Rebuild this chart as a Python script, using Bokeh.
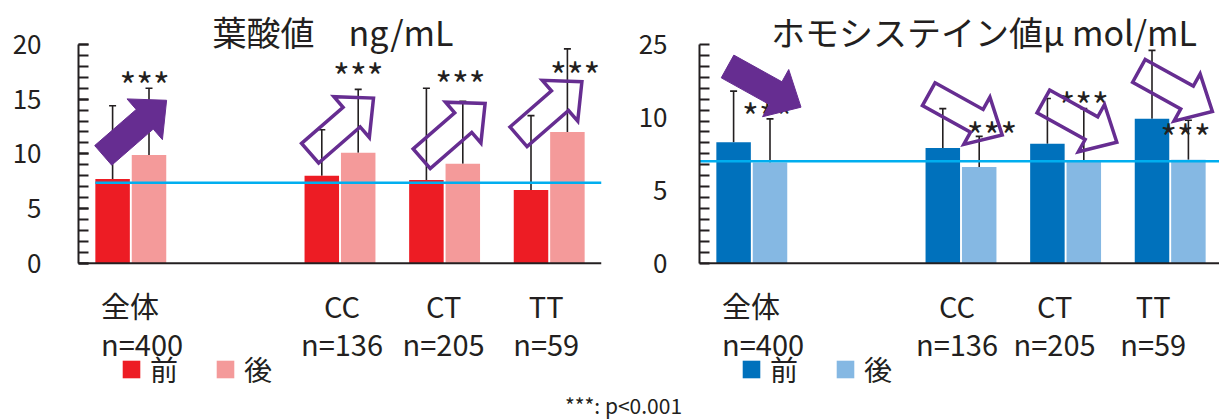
import math
from bokeh.plotting import figure
from bokeh.models import (ColumnDataSource, Range1d, FixedTicker, Span, Whisker,
                          TeeHead, Legend, LegendItem)
from bokeh.layouts import row, column
from bokeh.embed import file_html
from bokeh.resources import INLINE
from bokeh.core.properties import value

# ---------------- data ----------------
slots = ["全体", "", "CC", "CT", "TT"]          # x slots (one empty gap)
groups = ["全体", "CC", "CT", "TT"]
n_counts = [400, 136, 205, 59]
series = ["前", "後"]

folate_title = "葉酸値　ng/mL"
folate_pre = [7.7, 8.0, 7.6, 6.7]
folate_pre_sd = [6.7, 4.2, 8.4, 6.8]
folate_post = [9.9, 10.1, 9.1, 12.0]
folate_post_sd = [6.1, 5.8, 5.7, 7.6]
folate_ref = 7.35
folate_ticks = [0, 5, 10, 15, 20]
folate_tick_labels = ["0", "5", "10", "15", "20"]
folate_sig_y = [17.1, 17.9, 17.2, 18.0]
folate_arrow_tip_y = [14.9, 15.1, 14.6, 16.6]

hcy_title = "ホモシステイン値μ mol/mL"
hcy_pre = [8.3, 7.9, 8.2, 9.9]
hcy_pre_sd = [3.5, 2.7, 3.1, 4.7]
hcy_post = [6.9, 6.6, 7.0, 7.1]
hcy_post_sd = [3.0, 2.1, 3.6, 2.7]
hcy_ref = 7.0
hcy_ticks = [0, 5, 10, 15]
hcy_tick_labels = ["0", "5", "10", "25"]
hcy_sig_y = [10.7, 9.4, 11.5, 9.3]
hcy_arrow_tip_y = [10.7, 8.8, 8.3, 10.4]

arrow_style = ["filled", "outline", "outline", "outline"]
sig_text = "***"
note_text = "***: p<0.001"

# ---------------- layout / style ----------------
FONT = "Noto Sans CJK JP"
TXT = "#231f20"
PURPLE = "#662d91"
CYAN = "#00aeef"
H_MAIN = 389
H_NOTE = 31
BASE_Y = 262.7
TOP_Y = 44.0
SLOT = 104.6
BAR_OFF = 18.2 / SLOT
BAR_W = 34.5 / SLOT

ARROW_L, ARROW_W, ARROW_HW, ARROW_HL = 84.0, 26.0, 54.0, 29.0

gx = [slots.index(g) for g in groups]


def arrow_poly(angle_deg):
    a = math.radians(angle_deg)
    ux, uy = math.cos(a), math.sin(a)
    nx, ny = -uy, ux
    bx, by = -ARROW_HL * ux, -ARROW_HL * uy
    cx, cy = -ARROW_L * ux, -ARROW_L * uy
    return [
        (cx + ARROW_W / 2 * nx, cy + ARROW_W / 2 * ny),
        (bx + ARROW_W / 2 * nx, by + ARROW_W / 2 * ny),
        (bx + ARROW_HW / 2 * nx, by + ARROW_HW / 2 * ny),
        (0.0, 0.0),
        (bx - ARROW_HW / 2 * nx, by - ARROW_HW / 2 * ny),
        (bx - ARROW_W / 2 * nx, by - ARROW_W / 2 * ny),
        (cx - ARROW_W / 2 * nx, cy - ARROW_W / 2 * ny),
    ]


def make_panel(cfg, pre, pre_sd, post, post_sd, ref, ticks, tick_labels,
               minor, title, sig_y, tip_y):
    ppu = (BASE_Y - TOP_Y) / ticks[-1]
    fl, fr = cfg["frame_left"], cfg["frame_right"]
    fx0 = cfg["fig_x"]
    width = cfg["width"]
    x0 = -0.5
    x1 = x0 + (fr - fl) / SLOT
    y0 = (BASE_Y - H_MAIN) / ppu
    y1 = BASE_Y / ppu

    def px2x(px):
        return x0 + (px - fl) / SLOT

    def py2y(py):
        return (BASE_Y - py) / ppu

    p = figure(width=width, height=H_MAIN, x_range=Range1d(x0, x1),
               y_range=Range1d(y0, y1), x_axis_location=None,
               y_axis_location="left", toolbar_location=None,
               output_backend="svg", title=None,
               min_border_left=fl - fx0, min_border_right=fx0 + width - fr,
               min_border_top=0, min_border_bottom=0)
    p.outline_line_color = None
    p.grid.visible = False
    p.background_fill_color = "white"
    p.border_fill_color = "white"

    src = ColumnDataSource(dict(
        x_pre=[g - BAR_OFF for g in gx], x_post=[g + BAR_OFF for g in gx],
        pre=pre, post=post,
        pre_hi=[m + s for m, s in zip(pre, pre_sd)],
        post_hi=[m + s for m, s in zip(post, post_sd)],
    ))
    r_pre = p.vbar(x="x_pre", top="pre", bottom=0, width=BAR_W, source=src,
                   fill_color=cfg["c_pre"], line_color=None)
    r_post = p.vbar(x="x_post", top="post", bottom=0, width=BAR_W, source=src,
                    fill_color=cfg["c_post"], line_color=None)

    for base, lo, hi in (("x_pre", "pre", "pre_hi"), ("x_post", "post", "post_hi")):
        w = Whisker(source=src, base=base, lower=lo, upper=hi, dimension="height",
                    line_color=TXT, line_width=1.6,
                    upper_head=TeeHead(size=7, line_color=TXT, line_width=1.6),
                    lower_head=None, level="underlay")
        p.add_layout(w)

    # reference line
    ref_start = (gx[0] - BAR_OFF - BAR_W / 2) if cfg["ref_from_bar"] else x0
    p.segment(x0=[ref_start], x1=[x1], y0=[ref], y1=[ref],
              line_color=CYAN, line_width=2.5)
    # baseline
    p.add_layout(Span(location=0, dimension="width", line_color=TXT, line_width=2))

    # y axis
    ax = p.yaxis[0]
    ax.ticker = FixedTicker(ticks=ticks, minor_ticks=minor)
    ax.bounds = (0, ticks[-1])
    ax.major_label_overrides = {t: l for t, l in zip(ticks, tick_labels)}
    ax.axis_line_color = TXT
    ax.axis_line_width = 2
    ax.major_tick_in = 10
    ax.major_tick_out = 0
    ax.minor_tick_in = 10
    ax.minor_tick_out = 0
    ax.major_tick_line_width = 2
    ax.minor_tick_line_width = 2
    ax.major_tick_line_color = TXT if cfg["major_ticks"] else None
    ax.minor_tick_line_color = TXT
    ax.major_label_standoff = cfg["standoff"]
    ax.major_label_text_font = FONT
    ax.major_label_text_font_size = "26px"
    ax.major_label_text_color = TXT

    # title
    p.text(x=[px2x(cfg["title_cx"])], y=[py2y(31)], text=[title],
           text_align="center", text_baseline="middle", text_color=TXT,
           text_font=value(FONT), text_font_size=value("34px"))

    # category labels
    lx, ltxt1, ltxt2, lal = [], [], [], []
    for i, g in enumerate(groups):
        lx.append(gx[i] + cfg["label_dx"][i] / SLOT)
        ltxt1.append(g)
        ltxt2.append("n=%d" % n_counts[i])
        lal.append("left" if i == 0 else "center")
    lsrc = ColumnDataSource(dict(x=lx, y1=[py2y(304)] * 4, y2=[py2y(342)] * 4,
                                 t1=ltxt1, t2=ltxt2, al=lal))
    for ycol, tcol in (("y1", "t1"), ("y2", "t2")):
        p.text(x="x", y=ycol, text=tcol, text_align="al", source=lsrc,
               text_baseline="middle", text_color=TXT,
               text_font=value(FONT), text_font_size=value("29px"))

    # significance marks
    p.text(x=[gx[i] + cfg["sig_dx"][i] / SLOT for i in range(4)], y=sig_y,
           text=[sig_text] * 4, text_align="center", text_baseline="middle",
           y_offset=8, text_color=TXT, text_font=value(FONT),
           text_font_size=value("36px"))

    # arrows
    shape = arrow_poly(cfg["arrow_angle"])
    fx, fy, ox, oy = [], [], [], []
    for i in range(4):
        xs = [gx[i] + (cfg["tip_dx"][i] + sx) / SLOT for sx, _ in shape]
        ys = [tip_y[i] + sy / ppu for _, sy in shape]
        if arrow_style[i] == "filled":
            fx.append(xs); fy.append(ys)
        else:
            ox.append(xs); oy.append(ys)
    p.patches(xs=fx, ys=fy, fill_color=PURPLE, line_color=PURPLE, line_width=1)
    p.patches(xs=ox, ys=oy, fill_color=None, line_color=PURPLE, line_width=3.5,
              line_join="miter")

    legend = Legend(items=[LegendItem(label=series[0], renderers=[r_pre]),
                           LegendItem(label=series[1], renderers=[r_post])],
                    location=(cfg["legend_x"], 0), orientation="horizontal",
                    glyph_width=22, glyph_height=22, label_standoff=8, spacing=36,
                    padding=0, margin=0, border_line_color=None,
                    background_fill_alpha=0, label_text_font=FONT,
                    label_text_font_size="28px", label_text_color=TXT)
    p.add_layout(legend)
    return p


left_cfg = dict(fig_x=0, width=610, frame_left=78, frame_right=601,
                c_pre="#ed1c24", c_post="#f49a9a", ref_from_bar=True,
                major_ticks=True, standoff=37, title_cx=332.5,
                label_dx=[-29.8, 2, -1, -3], sig_dx=[13.8, 18.3, 15.8, 26.0],
                arrow_angle=41.0, tip_dx=[35.8, 33.5, 40.5, 32.7], legend_x=42)
right_cfg = dict(fig_x=610, width=609, frame_left=699, frame_right=1219,
                 c_pre="#0071bc", c_post="#85b8e3", ref_from_bar=False,
                 major_ticks=False, standoff=32, title_cx=983.5,
                 label_dx=[-29.8, -4, -11, -17], sig_dx=[15.5, 31.0, 18.0, 15.3],
                 arrow_angle=-29.0, tip_dx=[49.2, 41.2, 51.2, 42.2], legend_x=41)

p1 = make_panel(left_cfg, folate_pre, folate_pre_sd, folate_post, folate_post_sd,
                folate_ref, folate_ticks, folate_tick_labels,
                list(range(0, 21)), folate_title, folate_sig_y, folate_arrow_tip_y)
p2 = make_panel(right_cfg, hcy_pre, hcy_pre_sd, hcy_post, hcy_post_sd,
                hcy_ref, hcy_ticks, hcy_tick_labels,
                [0.75 * i for i in range(21)], hcy_title, hcy_sig_y, hcy_arrow_tip_y)

W_ALL = 1219
p3 = figure(width=W_ALL, height=H_NOTE, x_range=Range1d(0, W_ALL),
            y_range=Range1d(0, H_NOTE), x_axis_location=None, y_axis_location=None,
            toolbar_location=None, output_backend="svg", title=None,
            min_border_left=0, min_border_right=0, min_border_top=0,
            min_border_bottom=0)
p3.outline_line_color = None
p3.grid.visible = False
p3.text(x=[623], y=[H_NOTE / 2], text=[note_text],
        text_align="center", text_baseline="middle", text_color=TXT,
        text_font=value(FONT), text_font_size=value("21px"))

layout = column(row(p1, p2), p3)
open("out.html", "w").write(file_html(layout, INLINE))
